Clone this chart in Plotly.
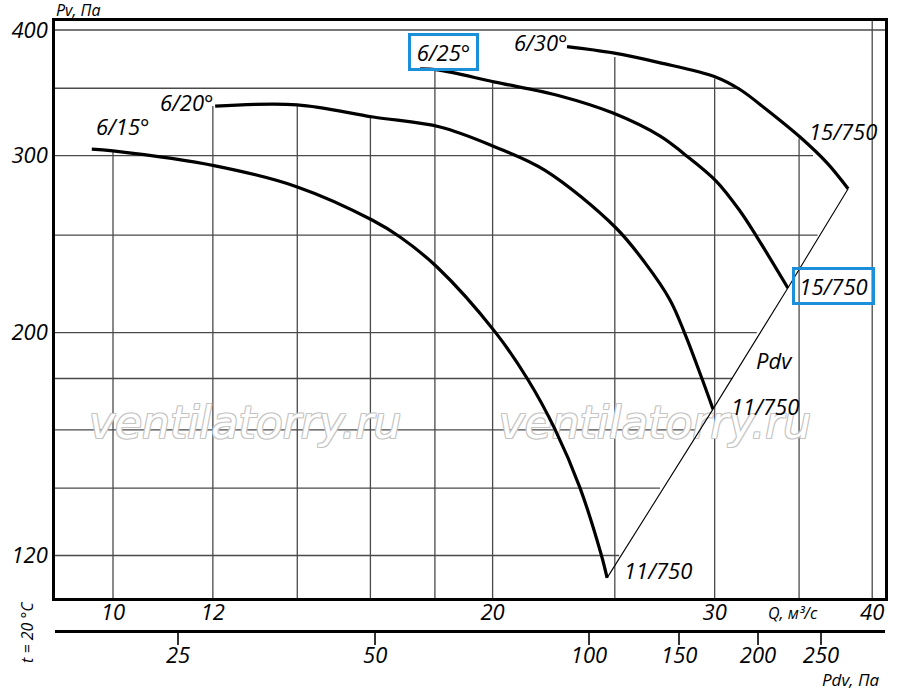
import numpy as np
import plotly.graph_objects as go

# Аэродинамические характеристики: Q, м3/с  -  Pv, Па
q_6_15 = [9.62, 10.0, 12.05, 14.0, 16.05, 16.89, 18.07, 20.09, 21.34, 22.41, 23.46, 24.38, 24.65]
pv_6_15 = [304.5, 303.2, 293, 279.2, 258.8, 248.9, 232.4, 200.3, 179.4, 160.3, 140.1, 120.4, 114.0]

q_6_20 = [12.05, 14.0, 16.08, 18.17, 20.09, 22.01, 25.01, 26.42, 27.65, 28.42, 29.32, 29.91]
pv_6_20 = [336, 337, 327.7, 320.3, 306, 290, 254.7, 234.6, 215.5, 199.3, 179.8, 167.8]

q_6_25 = [17.52, 18.1, 20.09, 22.62, 24.92, 27.16, 28.31, 30.08, 31.42, 32.41, 34.29]
pv_6_25 = [366, 365, 355, 343.9, 330.7, 313.7, 301.8, 283, 264.2, 248.9, 221.5]

q_6_30 = [22.91, 24.92, 27.16, 30.08, 31.42, 33.01, 35.06, 36.83, 38.28]
pv_6_30 = [385, 379.5, 371, 359, 349, 333, 313, 295, 278]

curve_names = ["6/15°", "6/20°", "6/25°", "6/30°"]
end_names = ["11/750", "11/750", "15/750", "15/750"]

# оси
q_ticks = [10, 12, 20, 30, 40]
pv_ticks = [120, 200, 300, 400]
pdv_labels = ["25", "50", "100", "150", "200", "250"]
pdv_tick_q = [11.26, 16.14, 23.85, 28.12, 32.47, 36.43]

# сетка (линии обрываются у кривых)
grid_pv = [120, 140, 160, 180, 200, 250, 300, 350, 400]
grid_pv_stop_q = [25.2, 27.15, 29.2, 31.0, 32.4, 36.2, 35.9, 31.4, None]
grid_q = [10, 12, 14, 16, 18, 20, 25, 30, 35, 40]
grid_q_stop_pv = [303, 336, 336, 327, 365, 355, 376, 358, 312, None]

X_RANGE = [0.954, 1.6122]
Y_RANGE = [2.0369, 2.6110]
FONT = "Open Sans, Noto Sans, DejaVu Sans, sans-serif"
BLUE = "#1b8fd9"

curves = [(q_6_15, pv_6_15), (q_6_20, pv_6_20), (q_6_25, pv_6_25), (q_6_30, pv_6_30)]

fig = go.Figure()

# сетка
q_min, q_max = 10 ** X_RANGE[0], 10 ** X_RANGE[1]
p_min, p_max = 10 ** Y_RANGE[0], 10 ** Y_RANGE[1]
gx, gy = [], []
for p, stop in zip(grid_pv, grid_pv_stop_q):
    gx += [q_min, stop if stop else q_max, None]
    gy += [p, p, None]
for q, stop in zip(grid_q, grid_q_stop_pv):
    gx += [q, q, None]
    gy += [p_min, stop if stop else p_max, None]
fig.add_trace(go.Scatter(x=gx, y=gy, mode="lines", line=dict(color="#4a4a4a", width=1.3),
                         hoverinfo="skip", showlegend=False))

# водяной знак (под кривыми)
fig.add_trace(go.Scatter(
    x=[12.73, 26.9], y=[161, 161], mode="text", text=["ventilatorry.ru"] * 2,
    textfont=dict(family="DejaVu Sans, sans-serif", size=44, color="white", style="italic",
                  shadow="-1px -1px 0 #c4c4c4, 1px -1px 0 #c4c4c4, -1px 1px 0 #c4c4c4, 1px 1px 0 #c4c4c4"),
    hoverinfo="skip", showlegend=False))

# линия Pdv через концы кривых
fig.add_trace(go.Scatter(x=[c[0][-1] for c in curves], y=[c[1][-1] for c in curves],
                         mode="lines", line=dict(color="black", width=1.1),
                         hoverinfo="skip", showlegend=False))

for (q, p), name in zip(curves, curve_names):
    fig.add_trace(go.Scatter(x=q, y=p, mode="lines", name=name,
                             line=dict(color="black", width=3.2, shape="spline", smoothing=1.0),
                             showlegend=False))

# фиктивный след для второй оси
fig.add_trace(go.Scatter(x=pdv_tick_q, y=[None] * len(pdv_tick_q), xaxis="x2", yaxis="y",
                         mode="markers", hoverinfo="skip", showlegend=False))

lbl = dict(family=FONT, size=22, color="black", style="italic")

# подписи кривых (от начала кривой)
start_shift = [(31, 23), (-28, 4), (23, 17), (-26, 5)]
for (q, p), name, (dx, dy), i in zip(curves, curve_names, start_shift, range(4)):
    boxed = i == 2
    fig.add_annotation(x=np.log10(q[0]), y=np.log10(p[0]), text=name, showarrow=False,
                       xshift=dx, yshift=dy, font=lbl,
                       bordercolor=BLUE if boxed else None, borderwidth=3 if boxed else 0,
                       borderpad=1, width=63 if boxed else None)

end_shift = [(51, 8), (52, 3), (46, 2), (-5, 58)]
for (q, p), name, (dx, dy), i in zip(curves, end_names, end_shift, range(4)):
    boxed = i == 2
    fig.add_annotation(x=np.log10(q[-1]), y=np.log10(p[-1]), text=name, showarrow=False,
                       xshift=dx, yshift=dy, font=lbl,
                       bordercolor=BLUE if boxed else None, borderwidth=3 if boxed else 0,
                       borderpad=1, width=75 if boxed else None)

fig.add_annotation(x=np.log10(33.44), y=np.log10(187.8), text="Pdv", showarrow=False, font=lbl)

small = dict(family=FONT, size=16, color="black", style="italic")


def paper_note(px, py, text, font, **kw):
    fig.add_annotation(x=(px - 55) / 830, y=(631 - py) / 610, xref="paper", yref="paper",
                       xanchor="center", yanchor="middle", text=text, showarrow=False,
                       font=font, **kw)


paper_note(78, 10, "Pv, Па", small)
paper_note(793, 613, "Q, м³/с", small)
paper_note(850, 680, "Pdv, Па", dict(small, size=17))
paper_note(27, 632, "t = 20 °C", small, textangle=-90)

tick_font = dict(family=FONT, size=22, color="black", style="italic")

fig.update_layout(
    width=900, height=695,
    margin=dict(l=55, r=15, t=21, b=64),
    plot_bgcolor="white", paper_bgcolor="white",
    font=dict(family=FONT, color="black"),
    xaxis=dict(type="log", range=X_RANGE, tickvals=q_ticks, ticktext=[str(v) for v in q_ticks],
               showgrid=False, zeroline=False, showline=True, linewidth=2.5, linecolor="black",
               mirror=True, ticks="", tickfont=tick_font, anchor="y", ticklabelstandoff=-7),
    xaxis2=dict(type="log", range=X_RANGE, overlaying="x", anchor="free", position=0,
                tickvals=pdv_tick_q, ticktext=pdv_labels, showgrid=False, zeroline=False,
                showline=True, linewidth=2.5, linecolor="black", ticks="outside",
                ticklen=12, tickwidth=1.5, tickcolor="#333", tickfont=tick_font,
                ticklabelstandoff=-8),
    yaxis=dict(type="log", range=Y_RANGE, domain=[33 / 610, 1], tickvals=pv_ticks,
               ticktext=[str(v) for v in pv_ticks], showgrid=False, zeroline=False,
               showline=True, linewidth=2.5, linecolor="black", mirror=True, ticks="",
               tickfont=tick_font),
)

fig.write_html("out.html", config={"displayModeBar": False},
               post_script="document.body.style.margin = '0';")
